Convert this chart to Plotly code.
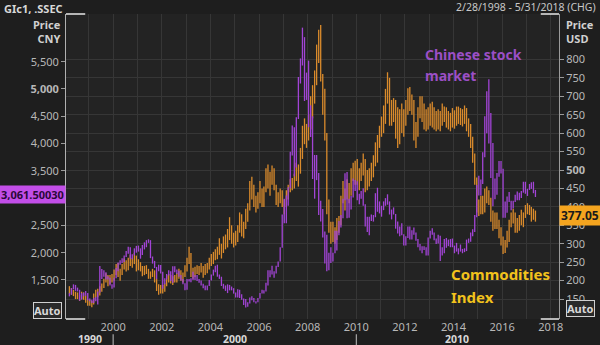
import pandas as pd
import plotly.graph_objects as go

# Monthly bars, Mar 1998 .. May 2017
start_month = "1998-03-01"

# Shanghai Composite (.SSEC), CNY, monthly low / high
ssec_low = [
    1200, 1230, 1330, 1300, 1290, 1120, 1140, 1200, 1210, 1130,
    1110, 1080, 1080, 1110, 1050, 1270, 1520, 1560, 1510, 1510, 1400, 1340,
    1360, 1530, 1660, 1780, 1810, 1830, 1920, 1980, 1890, 1880, 1950, 2000,
    2020, 1890, 1960, 2060, 2100, 2180, 1900, 1800, 1720, 1515, 1660, 1620,
    1340, 1420, 1510, 1580, 1480, 1450, 1640, 1610, 1560, 1490, 1420, 1310,
    1320, 1470, 1460, 1500, 1500, 1480, 1450, 1400, 1350, 1310, 1310, 1390,
    1490, 1580, 1640, 1560, 1520, 1390, 1340, 1300, 1260, 1310, 1310, 1250,
    1180, 1180, 1170, 1140, 1040, 998, 1010, 1070, 1130, 1090, 1070, 1090,
    1160, 1250, 1250, 1290, 1400, 1550, 1600, 1540, 1620, 1740, 1840, 2090,
    2540, 2540, 2860, 3180, 3780, 3400, 3560, 4450, 5100, 5430, 4780, 4800,
    4300, 4120, 3350, 2990, 3330, 2690, 2570, 2280, 1800, 1660, 1680, 1810,
    1840, 1990, 2040, 2320, 2460, 2630, 2960, 2630, 2640, 2790, 3010, 3130,
    2960, 2890, 2990, 2860, 2480, 2380, 2320, 2580, 2570, 2650, 2750, 2720,
    2660, 2780, 2860, 2880, 2700, 2610, 2700, 2440, 2350, 2300, 2320, 2130,
    2130, 2270, 2240, 2240, 2330, 2220, 2100, 2040, 1990, 2050, 1950, 1950,
    2260, 2330, 2230, 2160, 2170, 1850, 1950, 1990, 2090, 2120, 2100, 2100,
    1990, 2020, 1970, 2020, 1990, 2010, 2030, 2180, 2200, 2300, 2380, 2650,
    3050, 3050, 3260, 3750, 4190, 4000, 3370, 2850, 2980, 3060, 3390, 3450,
    2640, 2640, 2730, 2930, 2780, 2810, 2930, 2960, 2960, 3000, 3100, 3080,
    3040, 3150, 3170, 3090, 3020,
]
ssec_high = [
    1260, 1350, 1420, 1410, 1360, 1320, 1260, 1270, 1300, 1260,
    1160, 1140, 1170, 1190, 1290, 1756, 1700, 1680, 1640, 1570, 1540, 1420,
    1540, 1720, 1820, 1860, 1900, 1950, 2030, 2110, 2100, 1970, 2080, 2125,
    2130, 2080, 2140, 2190, 2230, 2245, 2230, 1930, 1850, 1740, 1780, 1775,
    1650, 1530, 1610, 1680, 1660, 1750, 1750, 1690, 1670, 1590, 1520, 1440,
    1520, 1520, 1530, 1650, 1590, 1590, 1520, 1490, 1430, 1400, 1400, 1500,
    1600, 1690, 1760, 1780, 1600, 1560, 1430, 1400, 1420, 1410, 1380, 1350,
    1270, 1330, 1320, 1240, 1160, 1150, 1090, 1180, 1200, 1170, 1110, 1170,
    1260, 1320, 1310, 1450, 1680, 1680, 1760, 1660, 1760, 1840, 2100, 2700,
    2990, 3050, 3200, 3850, 4330, 4300, 4480, 5220, 5560, 6124, 5950, 5300,
    5520, 4700, 4500, 3790, 3790, 3460, 2950, 2800, 2390, 2330, 2000, 2100,
    2000, 2400, 2400, 2580, 2690, 2990, 3454, 3478, 2990, 3040, 3360, 3330,
    3310, 3080, 3130, 3180, 2890, 2660, 2660, 2700, 2690, 3090, 3190, 2940,
    2860, 2940, 3000, 3070, 2940, 2790, 2830, 2710, 2570, 2480, 2540, 2340,
    2300, 2480, 2480, 2410, 2460, 2370, 2250, 2160, 2120, 2120, 2100, 2280,
    2400, 2450, 2370, 2260, 2330, 2310, 2100, 2250, 2270, 2240, 2250, 2260,
    2130, 2180, 2080, 2150, 2070, 2080, 2240, 2260, 2370, 2430, 2690, 3240,
    3410, 3340, 3840, 4500, 4960, 5178, 4560, 4010, 3360, 3460, 3680, 3680,
    3540, 2940, 3030, 3110, 2950, 2950, 3060, 3120, 3100, 3130, 3300, 3300,
    3170, 3260, 3290, 3300, 3150,
]

# Commodities index (GIc1), USD, monthly low / high
gsci_low = [
    165, 162, 158, 150, 150, 145, 150, 148, 140, 132,
    132, 128, 135, 155, 155, 160, 170, 180, 195, 185, 190, 195,
    200, 215, 210, 200, 215, 230, 225, 228, 240, 235, 245, 225,
    228, 225, 212, 215, 218, 205, 205, 210, 195, 172, 162, 165,
    165, 170, 185, 195, 192, 188, 195, 195, 205, 200, 195, 210,
    225, 245, 210, 205, 210, 218, 215, 222, 208, 215, 220, 230,
    240, 245, 255, 258, 270, 260, 275, 285, 290, 310, 300, 290,
    295, 305, 330, 320, 315, 340, 360, 390, 420, 400, 385, 395,
    410, 400, 400, 440, 450, 430, 460, 445, 405, 400, 410, 400,
    380, 400, 420, 440, 445, 450, 470, 455, 490, 530, 570, 560,
    580, 610, 640, 680, 730, 790, 740, 650, 580, 380, 330, 300,
    305, 300, 310, 330, 350, 410, 390, 420, 410, 430, 470, 460,
    460, 445, 470, 485, 440, 445, 455, 470, 480, 510, 520, 560,
    590, 600, 625, 680, 620, 620, 630, 585, 560, 570, 600, 590,
    620, 650, 660, 650, 580, 560, 590, 640, 630, 610, 605, 610,
    620, 615, 610, 605, 610, 605, 620, 630, 615, 610, 605, 615,
    612, 620, 625, 622, 618, 625, 605, 590, 560, 520, 460, 385,
    375, 380, 380, 385, 410, 405, 360, 335, 340, 340, 315, 295,
    272, 275, 290, 305, 345, 355, 330, 330, 335, 350, 345, 370,
    380, 378, 360, 365, 360,
]
gsci_high = [
    185, 180, 175, 170, 168, 162, 170, 168, 160, 150,
    148, 145, 165, 175, 178, 185, 192, 205, 220, 215, 215, 218,
    230, 245, 248, 232, 245, 260, 255, 262, 270, 262, 275, 268,
    258, 250, 240, 240, 242, 232, 225, 232, 228, 205, 190, 188,
    188, 192, 215, 218, 215, 212, 215, 220, 232, 228, 222, 242,
    262, 292, 275, 235, 238, 242, 240, 248, 240, 245, 248, 262,
    272, 278, 285, 292, 315, 300, 320, 325, 340, 372, 350, 330,
    335, 350, 385, 380, 360, 395, 410, 470, 482, 460, 430, 440,
    470, 450, 455, 505, 515, 495, 512, 505, 460, 440, 450, 445,
    420, 445, 460, 475, 478, 490, 520, 515, 560, 620, 640, 625,
    650, 700, 730, 770, 840, 880, 893, 760, 720, 600, 420, 360,
    360, 345, 370, 375, 430, 470, 450, 475, 465, 505, 520, 525,
    530, 505, 520, 545, 530, 500, 505, 520, 540, 575, 595, 620,
    645, 675, 720, 765, 750, 690, 695, 690, 670, 665, 680, 665,
    690, 722, 725, 705, 690, 630, 670, 700, 700, 680, 665, 670,
    680, 685, 670, 660, 665, 660, 680, 672, 670, 660, 655, 668,
    662, 672, 672, 668, 665, 675, 668, 640, 625, 590, 545, 480,
    420, 430, 430, 450, 455, 445, 425, 390, 385, 385, 365, 345,
    320, 310, 335, 365, 385, 395, 385, 370, 378, 392, 385, 405,
    410, 405, 400, 395, 390,
]

ssec_last = 3061.50030
gsci_last = 377.05

left_ticks = [1500, 2000, 2500, 3000, 3500, 4000, 4500, 5000, 5500]
right_ticks = list(range(150, 801, 50))
x_label_years = list(range(2000, 2019, 2))
grid_years = list(range(1999, 2019))
decade_labels = ["1990", "2000", "2010"]
decade_label_dates = ["1999-01-15", "2005-01-01", "2014-02-15"]
decade_breaks = ["2000-01-01", "2010-01-01"]

PURPLE = "#a244d6"
ORANGE = "#da8b2c"
FONT = "Noto Sans"

months = pd.date_range(start_month, periods=len(ssec_low), freq="MS") + pd.Timedelta(days=14)


def bar_path(lo, hi):
    xs, ys = [], []
    for d, l, h in zip(months, lo, hi):
        ds = d.strftime("%Y-%m-%d")
        xs += [ds, ds, None]
        ys += [l, h, None]
    return xs, ys


fig = go.Figure()
gx, gy = bar_path(gsci_low, gsci_high)
fig.add_trace(go.Scatter(x=gx, y=gy, mode="lines", line=dict(color=ORANGE, width=1.3),
                         yaxis="y", name="GIc1", showlegend=False, hoverinfo="skip"))
sx, sy = bar_path(ssec_low, ssec_high)
fig.add_trace(go.Scatter(x=sx, y=sy, mode="lines", line=dict(color=PURPLE, width=1.3),
                         yaxis="y2", name=".SSEC", showlegend=False, hoverinfo="skip"))


def fmt(v):
    return f"{v:,}"


left_text = ["<b>5,000</b>" if v == 5000 else fmt(v) for v in left_ticks]
right_text = ["<b>500</b>" if v == 500 else str(v) for v in right_ticks]

GRID = "#363636"
TICKC = "#b8b8b8"

fig.update_layout(
    width=600, height=345,
    margin=dict(l=66, r=41, t=14, b=26),
    paper_bgcolor="#1e1e1e",
    plot_bgcolor="#232323",
    font=dict(family=FONT, size=11, color=TICKC),
    showlegend=False,
    xaxis=dict(
        type="date",
        range=["1998-01-23", "2018-05-04"],
        tickvals=[f"{y}-01-01" for y in x_label_years],
        ticktext=[str(y) for y in x_label_years],
        showgrid=True, gridcolor=GRID, gridwidth=1,
        minor=dict(tickvals=[f"{y}-01-01" for y in grid_years], showgrid=True,
                   gridcolor=GRID, gridwidth=1),
        ticks="", showline=False, zeroline=False,
        tickfont=dict(size=11, color=TICKC),
    ),
    yaxis=dict(
        side="right", range=[96, 923],
        tickvals=right_ticks, ticktext=right_text,
        showgrid=True, gridcolor=GRID, gridwidth=1,
        ticks="outside", ticklen=4, tickcolor="#9a9a9a",
        showline=True, linecolor="#9a9a9a", linewidth=1,
        zeroline=False, tickfont=dict(size=11, color=TICKC),
    ),
    yaxis2=dict(
        side="left", overlaying="y", range=[785, 6374],
        tickvals=left_ticks, ticktext=left_text,
        showgrid=False,
        ticks="outside", ticklen=4, tickcolor="#9a9a9a",
        showline=True, linecolor="#b0b0b0", linewidth=1,
        zeroline=False, tickfont=dict(size=11, color=TICKC),
    ),
)

ann = []
# header texts
ann.append(dict(text="<b>GIc1, .SSEC</b>", xref="paper", yref="paper", x=0, y=1,
                xanchor="left", yanchor="middle", xshift=-64, yshift=6,
                showarrow=False, font=dict(size=11, color="#d8d8d8")))
ann.append(dict(text="2/28/1998 - 5/31/2018 (CHG)", xref="paper", yref="paper", x=1, y=1,
                xanchor="right", yanchor="middle", xshift=39, yshift=7,
                showarrow=False, font=dict(size=10.5, color="#c8c8c8")))
# axis titles
ann.append(dict(text="<b>Price</b><br><b>CNY</b>", xref="paper", yref="paper", x=0, y=1,
                xanchor="right", yanchor="top", xshift=-3, yshift=-1, align="right",
                showarrow=False, font=dict(size=11, color="#d0d0d0")))
ann.append(dict(text="<b>Price</b><br><b>USD</b>", xref="paper", yref="paper", x=1, y=1,
                xanchor="left", yanchor="top", xshift=5, yshift=-1, align="left",
                showarrow=False, font=dict(size=11, color="#d0d0d0")))
# series labels
ann.append(dict(text="<b>Chinese stock</b>", xref="x", yref="y2", x="2012-09-24", y=5641,
                xanchor="left", yanchor="middle", showarrow=False,
                font=dict(size=14, color="#9b4fc6")))
ann.append(dict(text="<b>market</b>", xref="x", yref="y2", x="2012-09-24", y=5238,
                xanchor="left", yanchor="middle", showarrow=False,
                font=dict(size=14, color="#9b4fc6")))
ann.append(dict(text="<b>Commodities</b>", xref="x", yref="y", x="2013-10-30", y=218,
                xanchor="left", yanchor="middle", showarrow=False,
                font=dict(size=15, color="#f2c21c")))
ann.append(dict(text="<b>Index</b>", xref="x", yref="y", x="2013-10-30", y=156,
                xanchor="left", yanchor="middle", showarrow=False,
                font=dict(size=15, color="#f2c21c")))
# last value tags
ann.append(dict(text="<b>" + f"{ssec_last:,.5f}" + "</b>", xref="paper", yref="y2", x=0, y=ssec_last,
                xanchor="right", yanchor="middle", showarrow=False, bgcolor="#c24ee8",
                borderpad=1, font=dict(size=11, color="#2a0838")))
ann.append(dict(text="<b>" + f"{gsci_last:.2f}" + "</b>", xref="paper", yref="y", x=1, y=gsci_last,
                xanchor="left", yanchor="middle", showarrow=False, bgcolor="#f4a41f",
                borderpad=1, font=dict(size=12, color="#1a1a1a")))
# Auto boxes
ann.append(dict(text="<b>Auto</b>", xref="paper", yref="paper", x=0, y=0,
                xanchor="right", yanchor="bottom", xshift=-4, yshift=0,
                showarrow=False, bordercolor="#d0d0d0", borderwidth=1, borderpad=0,
                bgcolor="#2a2a2a", font=dict(size=11, color="#d8d8d8")))
ann.append(dict(text="<b>Auto</b>", xref="paper", yref="paper", x=1, y=0,
                xanchor="left", yanchor="bottom", xshift=7, yshift=2,
                showarrow=False, bordercolor="#d0d0d0", borderwidth=1, borderpad=0,
                bgcolor="#2a2a2a", font=dict(size=11, color="#d8d8d8")))
# decade row
for lbl, xd in zip(decade_labels, decade_label_dates):
    ann.append(dict(text=f"<b>{lbl}</b>", xref="x", yref="paper", x=xd, y=0,
                    xanchor="center", yanchor="middle", yshift=-20, showarrow=False,
                    font=dict(size=10.5, color="#d8d8d8")))
fig.update_layout(annotations=ann)

shapes = []
for xd in decade_breaks:
    shapes.append(dict(type="line", xref="x", yref="paper", x0=xd, x1=xd, y0=-0.05, y1=-0.09,
                       line=dict(color="#c0c0c0", width=1)))
# corner markers
corner = dict(color="#e8e8e8", width=1.5)
shapes += [
    dict(type="line", xref="paper", yref="paper", x0=0, x1=0.039, y0=1, y1=1, line=corner),
    dict(type="line", xref="paper", yref="paper", x0=0.963, x1=1.0, y0=1, y1=1, line=corner),
    dict(type="line", xref="paper", yref="paper", x0=0, x1=0.039, y0=0, y1=0, line=corner),
    dict(type="line", xref="paper", yref="paper", x0=0.963, x1=1.0, y0=0, y1=0, line=corner),
]
fig.update_layout(shapes=shapes)

fig.write_html("out.html", config={"displayModeBar": False})
